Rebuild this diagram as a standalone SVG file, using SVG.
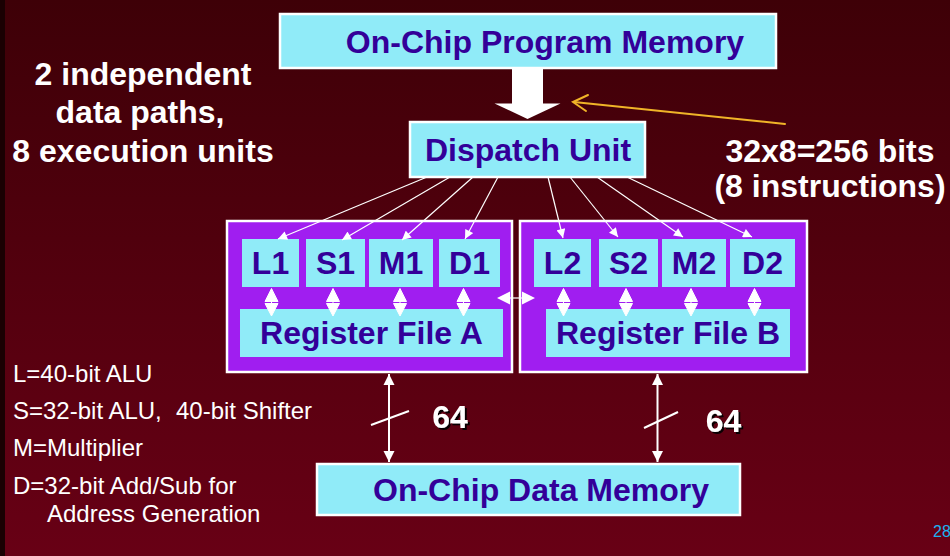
<svg xmlns="http://www.w3.org/2000/svg" width="950" height="556" viewBox="0 0 950 556">
  <defs>
    <linearGradient id="bg" x1="0" y1="0" x2="0" y2="1">
      <stop offset="0" stop-color="#3e0007"/>
      <stop offset="1" stop-color="#680015"/>
    </linearGradient>
    <marker id="tipSmall" viewBox="0 0 10 10" refX="10" refY="5" markerWidth="10" markerHeight="9" markerUnits="userSpaceOnUse" orient="auto">
      <path d="M0,0 L10,5 L0,10 Z" fill="#ffffff"/>
    </marker>
    <marker id="tipBus" viewBox="0 0 10 10" refX="10" refY="5" markerWidth="11" markerHeight="12" markerUnits="userSpaceOnUse" orient="auto-start-reverse">
      <path d="M0,0 L10,5 L0,10 Z" fill="#ffffff"/>
    </marker>
    <filter id="shadow" x="-20%" y="-20%" width="140%" height="140%">
      <feDropShadow dx="2" dy="2" stdDeviation="0.3" flood-color="#000000" flood-opacity="0.9"/>
    </filter>
  </defs>
  <style>
    .box { fill: #90ebf8; stroke: #ffffff; stroke-width: 2.5; }
    .unit { fill: #90ebf8; }
    .path { fill: #a01ef0; stroke: #ffffff; stroke-width: 2.5; }
    .lbl { font-family: "Liberation Sans", Arial, sans-serif; font-weight: bold; font-size: 32px; fill: #330099; text-anchor: middle; }
    .note { font-family: "Liberation Sans", Arial, sans-serif; font-weight: bold; font-size: 32px; fill: #ffffff; text-anchor: middle; }
    .legend { font-family: "Liberation Sans", Arial, sans-serif; font-size: 24px; fill: #ffffff; }
    .wire { stroke: #ffffff; stroke-width: 1.2; fill: none; }
    .bus { stroke: #ffffff; stroke-width: 2; fill: none; }
    .head { fill: #ffffff; }
  </style>

  <!-- background -->
  <rect x="0" y="0" width="950" height="556" fill="url(#bg)"/>
  <rect x="0" y="0" width="5" height="556" fill="#1a0002"/>

  <!-- side notes -->
  <g id="note-datapaths">
    <text class="note" x="143" y="85">2 independent</text>
    <text class="note" x="140" y="123">data paths,</text>
    <text class="note" x="143" y="162">8 execution units</text>
  </g>
  <g id="note-fetch">
    <text class="note" x="830" y="162">32x8=256 bits</text>
    <text class="note" x="830" y="197">(8 instructions)</text>
  </g>

  <!-- memories and dispatch -->
  <g id="program-memory">
    <rect class="box" x="280" y="14" width="496" height="54"/>
    <text class="lbl" x="545" y="53">On-Chip Program Memory</text>
  </g>
  <g id="dispatch-unit">
    <rect class="box" x="410" y="122" width="235" height="55"/>
    <text class="lbl" x="528" y="161">Dispatch Unit</text>
  </g>
  <g id="data-memory">
    <rect class="box" x="317" y="464" width="423" height="51"/>
    <text class="lbl" x="541" y="501">On-Chip Data Memory</text>
  </g>

  <!-- data path A -->
  <g id="datapath-a">
    <rect class="path" x="227" y="221" width="285" height="151"/>
    <g id="unit-L1"><rect class="unit" x="242" y="239" width="57" height="48"/><text class="lbl" x="270.5" y="274">L1</text></g>
    <g id="unit-S1"><rect class="unit" x="306" y="239" width="59" height="48"/><text class="lbl" x="335.5" y="274">S1</text></g>
    <g id="unit-M1"><rect class="unit" x="369" y="239" width="64" height="48"/><text class="lbl" x="401" y="274">M1</text></g>
    <g id="unit-D1"><rect class="unit" x="439" y="239" width="61" height="48"/><text class="lbl" x="469.5" y="274">D1</text></g>
    <g id="regfile-A"><rect class="unit" x="240" y="309" width="263" height="48"/><text class="lbl" x="371.5" y="344">Register File A</text></g>
  </g>

  <!-- data path B -->
  <g id="datapath-b">
    <rect class="path" x="520" y="221" width="287" height="151"/>
    <g id="unit-L2"><rect class="unit" x="534" y="239" width="57" height="48"/><text class="lbl" x="562.5" y="274">L2</text></g>
    <g id="unit-S2"><rect class="unit" x="599" y="239" width="59" height="48"/><text class="lbl" x="628.5" y="274">S2</text></g>
    <g id="unit-M2"><rect class="unit" x="662" y="239" width="64" height="48"/><text class="lbl" x="694" y="274">M2</text></g>
    <g id="unit-D2"><rect class="unit" x="730" y="239" width="65" height="48"/><text class="lbl" x="762.5" y="274">D2</text></g>
    <g id="regfile-B"><rect class="unit" x="546" y="309" width="244" height="48"/><text class="lbl" x="668" y="344">Register File B</text></g>
  </g>

  <!-- connectors -->
  <g id="connectors">
    <!-- 256-bit fetch packet -->
    <polygon class="head" points="512,68 543,68 543,103.5 560.5,103.5 527.5,119 494.5,103.5 512,103.5"/>
    <g stroke="#f0b428" stroke-width="2" fill="none" stroke-linecap="round">
      <line x1="785" y1="124" x2="574" y2="102"/>
      <polyline points="588,95 573,102 586,111"/>
    </g>

    <!-- dispatch to units -->
    <line class="wire" marker-end="url(#tipSmall)" x1="427" y1="177" x2="278" y2="239"/>
    <line class="wire" marker-end="url(#tipSmall)" x1="450" y1="177" x2="342" y2="240"/>
    <line class="wire" marker-end="url(#tipSmall)" x1="473" y1="177" x2="402" y2="240"/>
    <line class="wire" marker-end="url(#tipSmall)" x1="498" y1="177" x2="465" y2="239"/>
    <line class="wire" marker-end="url(#tipSmall)" x1="548" y1="177" x2="563" y2="238"/>
    <line class="wire" marker-end="url(#tipSmall)" x1="570" y1="177" x2="618" y2="237"/>
    <line class="wire" marker-end="url(#tipSmall)" x1="597" y1="177" x2="683" y2="237"/>
    <line class="wire" marker-end="url(#tipSmall)" x1="627" y1="177" x2="752" y2="237"/>

    <!-- unit <-> register file -->
    <g id="rf-links" fill="#ffffff" stroke="#ffffff" stroke-width="1">
      <g transform="translate(271.5,0)"><path d="M-6.5,301.5 L0,288.5 L6.5,301.5 Z M-6.5,303.5 L0,316 L6.5,303.5 Z"/><line x1="0" y1="300" x2="0" y2="305"/></g>
      <g transform="translate(333,0)"><path d="M-6.5,301.5 L0,288.5 L6.5,301.5 Z M-6.5,303.5 L0,316 L6.5,303.5 Z"/><line x1="0" y1="300" x2="0" y2="305"/></g>
      <g transform="translate(400,0)"><path d="M-6.5,301.5 L0,288.5 L6.5,301.5 Z M-6.5,303.5 L0,316 L6.5,303.5 Z"/><line x1="0" y1="300" x2="0" y2="305"/></g>
      <g transform="translate(463.5,0)"><path d="M-6.5,301.5 L0,288.5 L6.5,301.5 Z M-6.5,303.5 L0,316 L6.5,303.5 Z"/><line x1="0" y1="300" x2="0" y2="305"/></g>
      <g transform="translate(563.5,0)"><path d="M-6.5,301.5 L0,288.5 L6.5,301.5 Z M-6.5,303.5 L0,316 L6.5,303.5 Z"/><line x1="0" y1="300" x2="0" y2="305"/></g>
      <g transform="translate(626,0)"><path d="M-6.5,301.5 L0,288.5 L6.5,301.5 Z M-6.5,303.5 L0,316 L6.5,303.5 Z"/><line x1="0" y1="300" x2="0" y2="305"/></g>
      <g transform="translate(691,0)"><path d="M-6.5,301.5 L0,288.5 L6.5,301.5 Z M-6.5,303.5 L0,316 L6.5,303.5 Z"/><line x1="0" y1="300" x2="0" y2="305"/></g>
      <g transform="translate(754.5,0)"><path d="M-6.5,301.5 L0,288.5 L6.5,301.5 Z M-6.5,303.5 L0,316 L6.5,303.5 Z"/><line x1="0" y1="300" x2="0" y2="305"/></g>
    </g>

    <!-- cross path -->
    <line class="wire" x1="508" y1="298" x2="524" y2="298" stroke-width="1.5"/>
    <path class="head" d="M497,298 L510,291.5 L510,304.5 Z M535,298 L522,291.5 L522,304.5 Z"/>

    <!-- 64-bit buses -->
    <line class="bus" marker-start="url(#tipBus)" marker-end="url(#tipBus)" x1="389" y1="374" x2="389" y2="462"/>
    <line class="bus" x1="371" y1="425" x2="409" y2="411"/>
    <line class="bus" marker-start="url(#tipBus)" marker-end="url(#tipBus)" x1="657.5" y1="374" x2="657.5" y2="462"/>
    <line class="bus" x1="644" y1="428" x2="678" y2="412"/>
  </g>

  <g id="bus-widths" filter="url(#shadow)">
    <text class="note" x="450" y="428">64</text>
    <text class="note" x="723.5" y="432">64</text>
  </g>

  <!-- legend -->
  <g id="legend">
    <text class="legend" x="13" y="382">L=40-bit ALU</text>
    <text class="legend" x="13" y="419">S=32-bit ALU,<tspan x="176">40-bit Shifter</tspan></text>
    <text class="legend" x="13" y="456">M=Multiplier</text>
    <text class="legend" x="13" y="494">D=32-bit Add/Sub for</text>
    <text class="legend" x="47" y="522">Address Generation</text>
  </g>

  <text x="933" y="537" font-family="'Liberation Sans', Arial, sans-serif" font-size="16" fill="#1ab2f0">28</text>
</svg>
